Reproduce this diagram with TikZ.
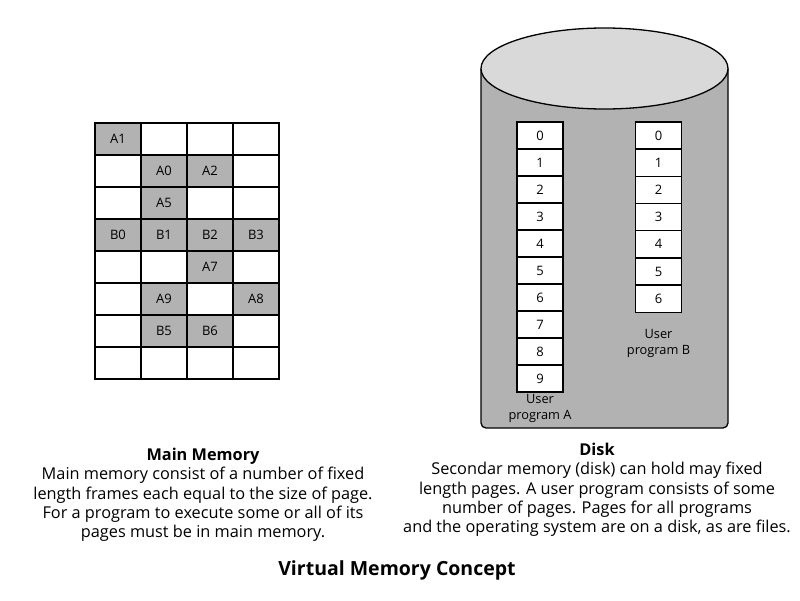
\documentclass[tikz,border=0pt]{standalone}
\usepackage{fontspec}
\setmainfont{Open Sans}
\begin{document}
\begin{tikzpicture}[x=1pt,y=-1pt,
  cellw/.style={draw=black,line width=1.4pt,fill=white,minimum width=46pt,minimum height=32pt,inner sep=0pt,font=\fontsize{13}{15}\selectfont},
  cellg/.style={cellw,fill=gray!60},
  pg/.style={draw=black,line width=1.2pt,fill=white,minimum width=46pt,minimum height=27pt,inner sep=0pt,font=\fontsize{13}{15}\selectfont},
  lbl/.style={align=center,font=\fontsize{12.8}{16}\selectfont},
  body/.style={align=center,font=\fontsize{16.3}{19.3}\selectfont}]
\useasboundingbox (0,0) rectangle (800,600);
% Main memory grid
\foreach \r/\a/\b/\c/\d in {0/A1///,1//A0/A2/,2//A5//,3/B0/B1/B2/B3,4///A7/,5//A9//A8,6//B5/B6/,7////}{
  \foreach \col/\t in {0/\a,1/\b,2/\c,3/\d}{
    \edef\tt{\t}
    \ifx\tt\empty
      \node[cellw] (m\r\col) at (118+46*\col,139+32*\r) {};
    \else
      \node[cellg] (m\r\col) at (118+46*\col,139+32*\r) {\tt};
    \fi
  }
}
% Disk
\draw[line width=1.3pt,fill=gray!60,rounded corners=5pt] (481,68.5) -- (481,428) -- (728,428) -- (728,68.5);
\draw[line width=1.3pt,fill=gray!30] (604.5,68.5) ellipse [x radius=123.5, y radius=40.5];
\foreach \i in {0,...,9}{
  \node[pg] (a\i) at (540,135.5+27*\i) {\i};
}
\foreach \i in {0,...,6}{
  \node[pg] (b\i) at (658.5,135.5+27.2*\i) {\i};
}
\node[lbl] (la) at (540,408) {User\\program A};
\node[lbl] (lb) at (658.5,343) {User\\program B};
% Texts
\node[body] (mm) at (203,495) {\textbf{Main Memory}\\Main memory consist of a number of fixed\\length frames each equal to the size of page.\\For a program to execute some or all of its\\pages must be in main memory.};
\node[body] (dk) at (597,490) {\textbf{Disk}\\Secondar memory (disk) can hold may fixed\\length pages. A user program consists of some\\number of pages. Pages for all programs\\and the operating system are on a disk, as are files.};
\node[font=\bfseries\fontsize{19.5}{22}\selectfont] (title) at (397,570) {Virtual Memory Concept};
\end{tikzpicture}
\end{document}
